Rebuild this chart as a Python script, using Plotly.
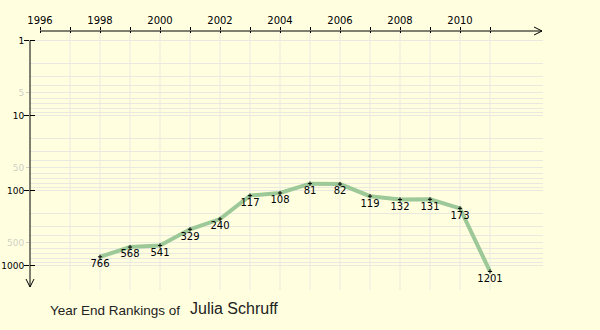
import plotly.graph_objects as go

# Year-end singles rankings
years = [1998, 1999, 2000, 2001, 2002, 2003, 2004, 2005, 2006, 2007, 2008, 2009, 2010, 2011]
ranks = [766, 568, 541, 329, 240, 117, 108, 81, 82, 119, 132, 131, 173, 1201]

player = "Julia Schruff"
caption = "Year End Rankings of"

year_labels = [1996, 1998, 2000, 2002, 2004, 2006, 2008, 2010]
grid_years = list(range(1997, 2012))
all_years = list(range(1996, 2012))
rank_major = [1, 10, 100, 1000]
rank_minor_labels = [5, 50, 500]
rank_grid = [m * d for d in (1, 10, 100) for m in range(2, 10)]

BG = "#FFFFE0"
GRID = "#e9e9e0"
LINE = "#9dc897"
FONT = "DejaVu Sans"

# plot-area box in page pixels
L, R, T, B = 30, 543, 31, 290
W, H = 600, 330


def px(x):
    return (x - L) / (R - L)


def py(y):
    return (B - y) / (B - T)


# x axis: 30 px per year, 1996 sits 10 px inside the left edge
x0 = 1996 - 10 / 30
x1 = x0 + (R - L) / 30
# y axis: log scale, 75 px per decade, rank 1 at 40.5 px
top_px = 40.5
y_lo = -(top_px - T) / 75
y_hi = (B - top_px) / 75

fig = go.Figure()

fig.add_trace(go.Scatter(
    x=years, y=ranks,
    mode="lines",
    line=dict(color=LINE, width=4),
    hoverinfo="skip",
    showlegend=False,
))
fig.add_trace(go.Scatter(
    x=years, y=ranks,
    mode="markers+text",
    marker=dict(symbol="cross-thin", size=3, line=dict(color="black", width=1), color="black"),
    text=[str(r) for r in ranks],
    textposition="bottom center",
    textfont=dict(family=FONT, size=10, color="black"),
    showlegend=False,
))

shapes = []
# vertical grid lines
for yr in grid_years:
    shapes.append(dict(type="line", xref="x", yref="paper", x0=yr, x1=yr, y0=0, y1=1,
                       line=dict(color=GRID, width=1), layer="below"))
# x axis line with arrow head
shapes.append(dict(type="line", xref="paper", yref="paper", x0=px(40), x1=px(542), y0=1, y1=1,
                   line=dict(color="black", width=1)))
shapes.append(dict(type="path", xref="paper", yref="paper",
                   path=f"M{px(534)},{py(27)} L{px(542)},{py(31)} L{px(534)},{py(35)}",
                   line=dict(color="black", width=1)))
# y axis line with arrow head
shapes.append(dict(type="line", xref="paper", yref="paper", x0=0, x1=0, y0=py(top_px), y1=py(287),
                   line=dict(color="black", width=1)))
shapes.append(dict(type="path", xref="paper", yref="paper",
                   path=f"M{px(26)},{py(279)} L{px(30)},{py(287)} L{px(34)},{py(279)}",
                   line=dict(color="black", width=1)))

annotations = [
    dict(text=caption, xref="paper", yref="paper", x=px(48), y=py(310),
         xanchor="left", yanchor="middle", showarrow=False,
         font=dict(family="Liberation Sans", size=13.5, color="#222")),
    dict(text=player, xref="paper", yref="paper", x=px(188), y=py(308),
         xanchor="left", yanchor="middle", showarrow=False,
         font=dict(family="Liberation Sans", size=16, color="#222")),
]

tickfont = dict(family=FONT, size=10, color="black")
ytickfont = dict(family=FONT, size=9, color="black")

fig.update_layout(
    width=W, height=H,
    margin=dict(l=L, r=W - R, t=T, b=H - B, pad=0, autoexpand=False),
    paper_bgcolor=BG, plot_bgcolor=BG,
    shapes=shapes,
    annotations=annotations,
    xaxis=dict(
        range=[x0, x1], side="top", automargin=False,
        tickmode="array", tickvals=year_labels, ticktext=[str(y) for y in year_labels],
        ticks="outside", ticklen=3, tickcolor="black", tickwidth=1,
        tickfont=tickfont, ticklabelstandoff=-1,
        minor=dict(tickmode="array", tickvals=[y for y in all_years if y not in year_labels],
                   ticks="outside", ticklen=3, tickcolor="black", showgrid=False),
        showgrid=False, showline=False, zeroline=False, fixedrange=True,
    ),
    xaxis2=dict(
        range=[x0, x1], overlaying="x", side="top", automargin=False,
        tickmode="array", tickvals=all_years, ticks="inside", ticklen=2,
        tickcolor="black", showticklabels=False, showgrid=False, zeroline=False,
    ),
    yaxis=dict(
        type="log", range=[y_hi, y_lo], automargin=False,
        tickmode="array", tickvals=rank_major, ticktext=[str(v) for v in rank_major],
        ticks="outside", ticklen=5, tickcolor="black", tickwidth=1,
        tickfont=ytickfont, ticklabelstandoff=-2,
        showgrid=True, gridcolor=GRID, gridwidth=1,
        minor=dict(tickmode="array", tickvals=rank_grid + rank_minor_labels,
                   ticks="", showgrid=True, gridcolor=GRID, gridwidth=1),
        showline=False, zeroline=False, fixedrange=True,
    ),
    yaxis2=dict(
        type="log", range=[y_hi, y_lo], overlaying="y", side="left", automargin=False,
        tickmode="array", tickvals=rank_minor_labels, ticktext=[str(v) for v in rank_minor_labels],
        ticks="outside", ticklen=3, tickcolor="#d0d0c8",
        tickfont=dict(family=FONT, size=9, color="#cfcfc4"), ticklabelstandoff=0,
        showgrid=False, showline=False, zeroline=False,
    ),
    yaxis3=dict(
        type="log", range=[y_hi, y_lo], overlaying="y", side="left", automargin=False,
        tickmode="array", tickvals=rank_major, ticks="inside", ticklen=5,
        tickcolor="black", showticklabels=False, showgrid=False, zeroline=False,
    ),
)

# invisible anchors so the overlay axes are drawn
for xa, ya in (("x2", "y"), ("x", "y2"), ("x", "y3")):
    fig.add_trace(go.Scatter(x=[years[0]], y=[ranks[0]], xaxis=xa, yaxis=ya,
                             mode="markers", marker=dict(opacity=0), hoverinfo="skip",
                             showlegend=False))

fig.write_html("out.html")
